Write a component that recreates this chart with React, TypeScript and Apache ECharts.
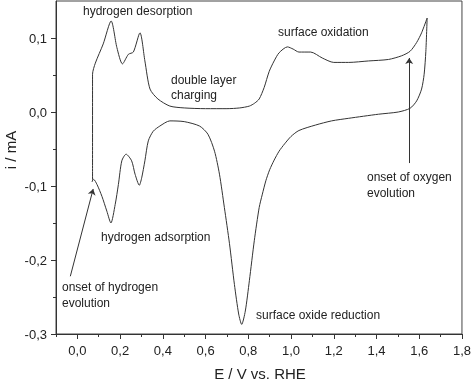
import React, { useEffect, useRef } from "react";
import * as echarts from "echarts";

// Anodic sweep (E in V vs. RHE, i in mA)
const anodicE = [0.071, 0.071, 0.084, 0.121, 0.158, 0.185, 0.211, 0.239, 0.262, 0.293, 0.316, 0.34, 0.377, 0.433, 0.5, 0.6, 0.7, 0.76, 0.805, 0.83, 0.851, 0.874, 0.898, 0.921, 0.944, 0.983, 1.01, 1.037, 1.092, 1.146, 1.2, 1.27, 1.363, 1.456, 1.518, 1.557, 1.588, 1.611, 1.637];
const anodicI = [-0.094, 0.051, 0.066, 0.092, 0.123, 0.087, 0.065, 0.078, 0.081, 0.107, 0.069, 0.031, 0.0176, 0.008, 0.0055, 0.0045, 0.0045, 0.0055, 0.008, 0.012, 0.0176, 0.033, 0.055, 0.069, 0.08, 0.088, 0.085, 0.081, 0.081, 0.073, 0.067, 0.067, 0.069, 0.071, 0.076, 0.082, 0.094, 0.107, 0.127];

// Cathodic sweep
const cathodicE = [1.637, 1.631, 1.623, 1.611, 1.588, 1.557, 1.502, 1.409, 1.27, 1.19, 1.115, 1.037, 1.0, 0.97, 0.944, 0.921, 0.9, 0.882, 0.865, 0.851, 0.828, 0.805, 0.786, 0.769, 0.755, 0.735, 0.712, 0.688, 0.665, 0.642, 0.611, 0.572, 0.5, 0.433, 0.386, 0.355, 0.332, 0.316, 0.301, 0.29, 0.27, 0.254, 0.228, 0.208, 0.192, 0.177, 0.157, 0.138, 0.115, 0.092, 0.076, 0.068];
const cathodicI = [0.127, 0.082, 0.051, 0.031, 0.015, 0.005, 0.0, -0.003, -0.0085, -0.012, -0.0176, -0.025, -0.033, -0.043, -0.053, -0.065, -0.078, -0.093, -0.112, -0.129, -0.174, -0.228, -0.269, -0.287, -0.273, -0.233, -0.178, -0.129, -0.084, -0.053, -0.03, -0.019, -0.013, -0.012, -0.019, -0.026, -0.039, -0.066, -0.089, -0.099, -0.084, -0.066, -0.057, -0.066, -0.098, -0.125, -0.15, -0.134, -0.114, -0.098, -0.091, -0.094];

const xMajorTicks = [0, 0.2, 0.4, 0.6, 0.8, 1.0, 1.2, 1.4, 1.6, 1.8];
const xMinorTicks = [-0.1, 0.1, 0.3, 0.5, 0.7, 0.9, 1.1, 1.3, 1.5, 1.7];
const yMajorTicks = [-0.3, -0.2, -0.1, 0, 0.1];
const yMinorTicks = [-0.25, -0.15, -0.05, 0.05];

// Arrows: [startE, startI, endE, endI]
const arrowOxygen = [1.553, -0.069, 1.553, 0.073];
const arrowHydrogen = [-0.033, -0.222, 0.074, -0.104];

const annotations: { text: string; x: number; y: number }[] = [
  { text: "hydrogen desorption", x: 83, y: 11 },
  { text: "double layer", x: 171, y: 80 },
  { text: "charging", x: 171, y: 95 },
  { text: "surface oxidation", x: 278, y: 32 },
  { text: "onset of oxygen", x: 367, y: 177 },
  { text: "evolution", x: 367, y: 193 },
  { text: "hydrogen adsorption", x: 101, y: 237 },
  { text: "onset of hydrogen", x: 62, y: 287 },
  { text: "evolution", x: 62, y: 303 },
  { text: "surface oxide reduction", x: 256, y: 315 },
];

const FONT = '"Liberation Sans", Arial, sans-serif';
const INK = "#222";
const fmt = (v: number) => v.toFixed(1).replace(".", ",");

export default function App() {
  const ref = useRef<HTMLDivElement>(null);
  useEffect(() => {
    if (!ref.current) return;
    const chart = echarts.init(ref.current, null, { renderer: "svg" });
    const anodic = anodicE.map((e, k) => [e, anodicI[k]]);
    const cathodic = cathodicE.map((e, k) => [e, cathodicI[k]]);
    const lineStyle = { color: "#333", width: 1 };
    const axisCommon = {
      type: "value" as const,
      splitLine: { show: false },
    };
    chart.setOption({
      animation: false,
      grid: {
        left: 56,
        right: 9,
        top: 1,
        bottom: 48,
        show: true,
        borderColor: "#444",
        borderWidth: 1,
        backgroundColor: "transparent",
      },
      xAxis: [
        {
          ...axisCommon,
          min: -0.1,
          max: 1.8,
          position: "bottom",
          axisLine: { show: true, onZero: false, lineStyle: { color: "#333", width: 1 } },
          axisTick: { show: true, customValues: xMajorTicks, length: 5, lineStyle: { color: "#333" } },
          axisLabel: {
            customValues: xMajorTicks,
            formatter: fmt,
            fontFamily: FONT,
            fontSize: 13,
            color: INK,
            margin: 10,
          },
        },
        {
          ...axisCommon,
          min: -0.1,
          max: 1.8,
          position: "bottom",
          axisLine: { show: false, onZero: false },
          axisTick: { show: true, customValues: xMinorTicks, length: 3, lineStyle: { color: "#333" } },
          axisLabel: { show: false },
        },
      ],
      yAxis: [
        {
          ...axisCommon,
          min: -0.3,
          max: 0.15,
          position: "left",
          axisLine: { show: true, onZero: false, lineStyle: { color: "#333", width: 1 } },
          axisTick: { show: true, customValues: yMajorTicks, length: 5, lineStyle: { color: "#333" } },
          axisLabel: {
            customValues: yMajorTicks,
            formatter: fmt,
            fontFamily: FONT,
            fontSize: 13,
            color: INK,
            margin: 9,
          },
        },
        {
          ...axisCommon,
          min: -0.3,
          max: 0.15,
          position: "left",
          axisLine: { show: false, onZero: false },
          axisTick: { show: true, customValues: yMinorTicks, length: 3, lineStyle: { color: "#333" } },
          axisLabel: { show: false },
        },
      ],
      series: [
        {
          type: "line",
          data: anodic,
          showSymbol: false,
          smooth: 0.25,
          lineStyle,
          silent: true,
          markLine: {
            silent: true,
            symbol: ["none", "arrow"],
            symbolSize: 6,
            label: { show: false },
            lineStyle: { color: "#333", width: 1, type: "solid" },
            emphasis: { disabled: true },
            data: [
              [
                { coord: [arrowOxygen[0], arrowOxygen[1]] },
                { coord: [arrowOxygen[2], arrowOxygen[3]] },
              ],
              [
                { coord: [arrowHydrogen[0], arrowHydrogen[1]] },
                { coord: [arrowHydrogen[2], arrowHydrogen[3]] },
              ],
            ],
          },
        },
        {
          type: "line",
          data: cathodic,
          showSymbol: false,
          smooth: 0.25,
          lineStyle,
          silent: true,
        },
      ],
      graphic: [
        ...annotations.map((a) => ({
          type: "text",
          x: a.x,
          y: a.y,
          silent: true,
          style: {
            text: a.text,
            font: `12px ${FONT}`,
            fill: INK,
            verticalAlign: "middle",
            align: "left",
          },
        })),
        {
          type: "text",
          x: 260,
          y: 373,
          silent: true,
          style: {
            text: "E / V vs. RHE",
            font: `15px ${FONT}`,
            fill: INK,
            align: "center",
            verticalAlign: "middle",
          },
        },
        {
          type: "text",
          x: 10,
          y: 150,
          rotation: Math.PI / 2,
          silent: true,
          style: {
            text: "i / mA",
            font: `15px ${FONT}`,
            fill: INK,
            align: "center",
            verticalAlign: "middle",
          },
        },
      ],
    });
    return () => chart.dispose();
  }, []);
  return (
    <div
      ref={ref}
      style={{ position: "fixed", left: 0, top: 0, width: 474, height: 382 }}
    />
  );
}
